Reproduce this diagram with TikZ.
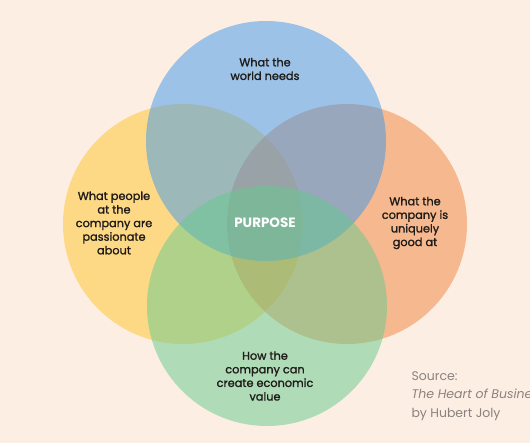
\documentclass[tikz,border=0pt]{standalone}
\usepackage{fontspec}
\setmainfont{Poppins}
\newfontfamily\medfont{Poppins}[FakeBold=1.4]
\definecolor{bgc}{RGB}{253,238,227}
\definecolor{cyel}{RGB}{253,217,134}
\definecolor{corg}{RGB}{241,132,59}
\definecolor{cblu}{RGB}{61,152,237}
\definecolor{cgrn}{RGB}{99,202,141}
\definecolor{txt}{RGB}{30,27,24}
\definecolor{srcc}{RGB}{138,130,126}
\begin{document}
\begin{tikzpicture}[x=1pt,y=-1pt,
  ring/.style={circle, minimum size=240pt, inner sep=0pt, draw=none},
  label/.style={align=center, text=txt, font=\medfont\fontsize{11.3}{13.6}\selectfont},
  srctext/.style={align=left, anchor=north west, text=srcc, font=\fontsize{12.5}{18.5}\selectfont}]
\clip (0,0) rectangle (530,443);
\fill[bgc] (0,0) rectangle (530,443);
\node[ring, fill=cyel] (yel) at (183,224) {};
\node[ring, fill=corg, fill opacity=0.5] (org) at (347,224) {};
\node[ring, fill=cblu, fill opacity=0.5] (blu) at (266,141) {};
\node[ring, fill=cgrn, fill opacity=0.5] (grn) at (267,306) {};
\node[label] (tneed) at (265,69) {What the\\world needs};
\node[label] (tpass) at (114,223) {What people\\at the\\company are\\passionate\\about};
\node[label] (tgood) at (415,223) {What the\\company is\\uniquely\\good at};
\node[label] (tecon) at (265,376) {How the\\company can\\create economic\\value};
\node[text=white, font=\fontsize{13.5}{15}\selectfont\bfseries] (purp) at (265,223) {PURPOSE};
\node[srctext] (src) at (408,368) {Source:\\\textit{The Heart of Business}\\by Hubert Joly};
\end{tikzpicture}
\end{document}
